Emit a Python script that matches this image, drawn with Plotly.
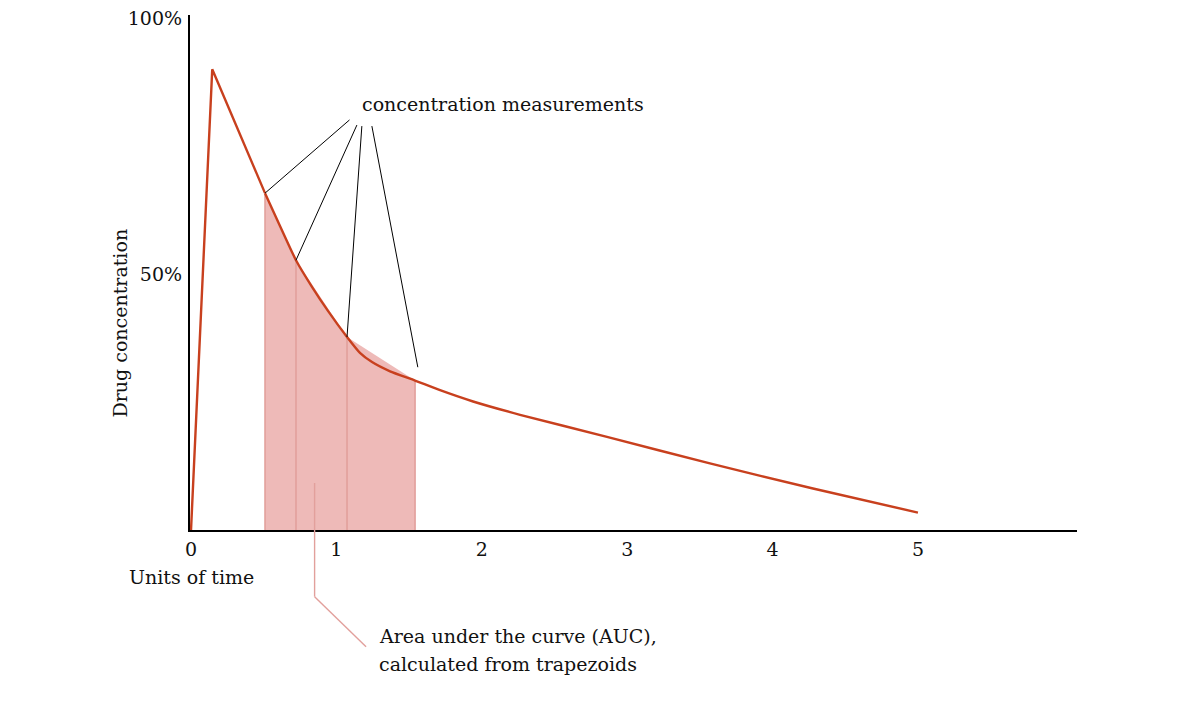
import plotly.graph_objects as go

# ---- data ----
# rise to the peak and straight decline to the first measurement
rise_t = [0.0, 0.146, 0.509]
rise_c = [0.0, 90.0, 65.8]
# elimination phase (smooth)
decay_t = [0.509, 0.612, 0.722, 0.832, 0.942, 1.073, 1.162, 1.245, 1.369, 1.541,
           1.713, 1.940, 2.263, 2.861, 3.569, 4.278, 5.0]
decay_c = [65.8, 59.4, 52.7, 47.5, 42.8, 37.7, 34.6, 32.8, 31.0, 29.2,
           27.3, 25.1, 22.5, 18.2, 13.0, 8.1, 3.4]

meas_t = [0.509, 0.722, 1.073, 1.541]
meas_c = [65.8, 52.7, 37.7, 29.2]

x_tick_vals = [0, 1, 2, 3, 4, 5]
x_tick_text = ["0", "1", "2", "3", "4", "5"]
y_tick_vals = [50, 100]
y_tick_text = ["50%", "100%"]

LINE = "#C8401E"
FILL = "rgba(226,140,136,0.6)"
EDGE = "#E2A09C"
FONT = "DejaVu Serif"
TXT = "#111111"

fig = go.Figure()

# trapezoid area (AUC)
poly_x = [meas_t[0]] + meas_t + [meas_t[-1], meas_t[0]]
poly_y = [0] + meas_c + [0, 0]
fig.add_trace(go.Scatter(x=poly_x, y=poly_y, mode="lines", fill="toself",
                         fillcolor=FILL, line=dict(color="rgba(0,0,0,0)", width=0),
                         hoverinfo="skip", showlegend=False))
# vertical trapezoid edges
for t, c in zip(meas_t, meas_c):
    fig.add_trace(go.Scatter(x=[t, t], y=[0, c], mode="lines",
                             line=dict(color=EDGE, width=1.6),
                             hoverinfo="skip", showlegend=False))

# concentration curve
fig.add_trace(go.Scatter(x=rise_t, y=rise_c, mode="lines",
                         line=dict(color=LINE, width=2.4),
                         hoverinfo="skip", showlegend=False))
fig.add_trace(go.Scatter(x=decay_t, y=decay_c, mode="lines",
                         line=dict(color=LINE, width=2.4, shape="spline", smoothing=0.5),
                         hoverinfo="skip", showlegend=False))

# leader lines for "concentration measurements"
label_anchor_t = [1.090, 1.141, 1.175, 1.244]
label_anchor_c = [80.1, 79.1, 78.9, 78.9]
leader_end_t = [meas_t[0], meas_t[1], meas_t[2], 1.560]
leader_end_c = [meas_c[0], meas_c[1], meas_c[2], 31.8]
shapes = []
for x0, y0, x1, y1 in zip(label_anchor_t, label_anchor_c, leader_end_t, leader_end_c):
    shapes.append(dict(type="line", xref="x", yref="y", x0=x0, y0=y0, x1=x1, y1=y1,
                       line=dict(color="black", width=1)))

# AUC leader line (pink)
shapes.append(dict(type="line", xref="x", yref="paper", x0=0.850, y0=0.0913,
                   x1=0.850, y1=-0.1295, line=dict(color=EDGE, width=1.4)))
shapes.append(dict(type="line", xref="x", yref="paper", x0=0.850, y0=-0.1295,
                   x1=1.204, y1=-0.2266, line=dict(color=EDGE, width=1.4)))

annotations = [
    dict(text="concentration measurements", x=1.162, y=83.2, xref="x", yref="y",
         xanchor="left", yanchor="middle", showarrow=False,
         font=dict(family=FONT, size=19, color=TXT)),
    dict(text="Area under the curve (AUC),", x=0.2108, y=-0.2058, xref="paper", yref="paper",
         xanchor="left", yanchor="middle", showarrow=False,
         font=dict(family=FONT, size=19, color=TXT)),
    dict(text="calculated from trapezoids", x=0.2108, y=-0.2602, xref="paper", yref="paper",
         xanchor="left", yanchor="middle", showarrow=False,
         font=dict(family=FONT, size=19, color=TXT)),
    dict(text="Units of time", x=-0.0710, y=-0.0913, xref="paper", yref="paper",
         xanchor="left", yanchor="middle", showarrow=False,
         font=dict(family=FONT, size=19, color=TXT)),
    dict(text="Drug concentration", x=-0.0789, y=0.401, xref="paper", yref="paper",
         xanchor="center", yanchor="middle", textangle=-90, showarrow=False,
         font=dict(family=FONT, size=19, color=TXT)),
]

fig.update_layout(
    width=1167, height=699,
    margin=dict(l=182, r=98, t=7, b=177, pad=0, autoexpand=False),
    paper_bgcolor="white", plot_bgcolor="white",
    shapes=shapes, annotations=annotations,
    font=dict(family=FONT, size=19, color=TXT),
    xaxis=dict(range=[-0.007, 6.094], showgrid=False, zeroline=False,
               showline=True, linecolor="black", linewidth=2.2,
               tickvals=x_tick_vals, ticktext=x_tick_text, ticks="",
               ticklabelstandoff=1, automargin=False),
    yaxis=dict(range=[0, 100.6], showgrid=False, zeroline=False,
               showline=True, linecolor="black", linewidth=2.2,
               tickvals=y_tick_vals, ticktext=y_tick_text, ticks="",
               ticklabelstandoff=2, ticklabeloverflow="allow", automargin=False),
)

fig.write_html("out.html")
